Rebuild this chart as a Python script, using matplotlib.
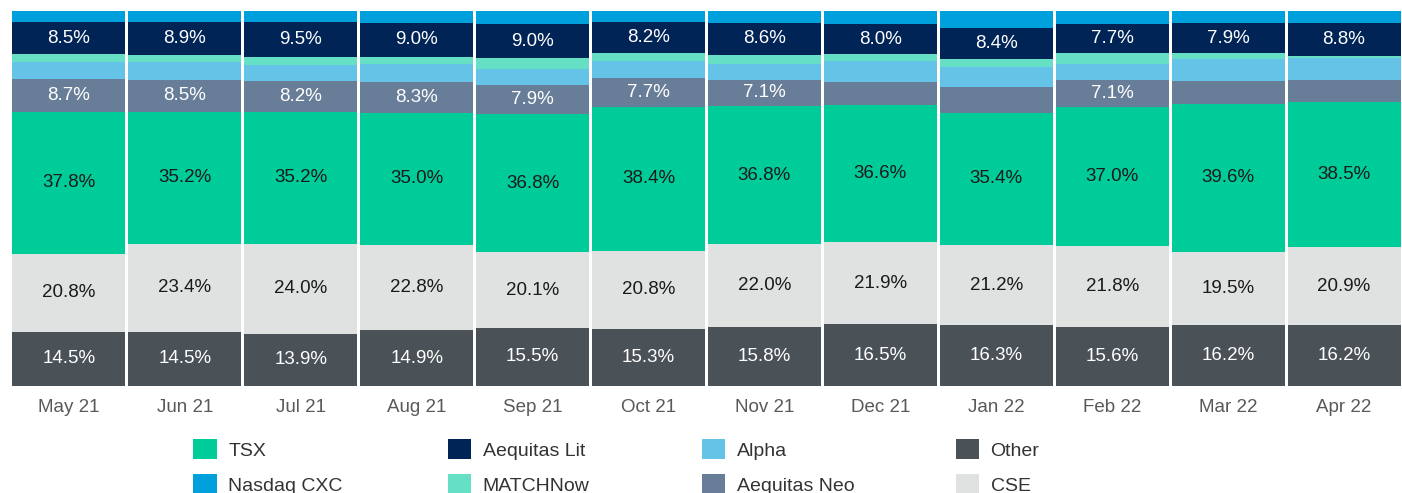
import matplotlib.pyplot as plt
import numpy as np

plt.rcParams['font.family'] = ['Liberation Sans', 'DejaVu Sans']

months = ['May 21', 'Jun 21', 'Jul 21', 'Aug 21', 'Sep 21', 'Oct 21',
          'Nov 21', 'Dec 21', 'Jan 22', 'Feb 22', 'Mar 22', 'Apr 22']

# market share (%) by venue, stacked bottom -> top
other = [14.5, 14.5, 13.9, 14.9, 15.5, 15.3, 15.8, 16.5, 16.3, 15.6, 16.2, 16.2]
cse = [20.8, 23.4, 24.0, 22.8, 20.1, 20.8, 22.0, 21.9, 21.2, 21.8, 19.5, 20.9]
tsx = [37.8, 35.2, 35.2, 35.0, 36.8, 38.4, 36.8, 36.6, 35.4, 37.0, 39.6, 38.5]
aeq_neo = [8.7, 8.5, 8.2, 8.3, 7.9, 7.7, 7.1, 6.1, 6.8, 7.1, 6.1, 5.9]
alpha = [4.5, 4.7, 4.3, 4.7, 4.3, 4.3, 4.1, 5.5, 5.3, 4.3, 5.7, 5.9]
matchnow = [2.1, 1.9, 2.0, 2.1, 2.8, 2.2, 2.4, 1.8, 2.1, 2.9, 1.7, 0.6]
aeq_lit = [8.5, 8.9, 9.5, 9.0, 9.0, 8.2, 8.6, 8.0, 8.4, 7.7, 7.9, 8.8]
nasdaq = [3.1, 2.9, 2.9, 3.2, 3.6, 3.1, 3.2, 3.6, 4.5, 3.6, 3.3, 3.2]

series = [
    ('Other', other, '#4a5157', 'white'),
    ('CSE', cse, '#e0e1e1', '#1a1a1a'),
    ('TSX', tsx, '#00cc99', '#1a1a1a'),
    ('Aequitas Neo', aeq_neo, '#687d98', 'white'),
    ('Alpha', alpha, '#66c3e8', None),
    ('MATCHNow', matchnow, '#66e0c4', None),
    ('Aequitas Lit', aeq_lit, '#002456', 'white'),
    ('Nasdaq CXC', nasdaq, '#00a0dc', None),
]

fig = plt.figure(figsize=(14.02, 4.93), dpi=100)
ax = fig.add_axes([0.0078, 0.217, 0.9922, 0.761])

x = np.arange(len(months))
bottom = np.zeros(len(months))
handles = {}
for name, vals, color, tcol in series:
    vals = np.array(vals)
    bars = ax.bar(x, vals, bottom=bottom, width=0.975, color=color,
                  linewidth=0, label=name)
    handles[name] = bars
    if tcol is not None:
        for xi, b, v in zip(x, bottom, vals):
            if v >= 7:
                ax.text(xi, b + v / 2, '%.1f%%' % v, ha='center', va='center',
                        color=tcol, fontsize=13.5)
    bottom += vals

ax.set_xlim(-0.5, len(months) - 0.5)
ax.set_ylim(0, bottom.max())
ax.set_xticks(x)
ax.set_xticklabels(months, fontsize=13.5, color='#595959')
ax.tick_params(axis='x', length=0, pad=9)
ax.set_yticks([])
for s in ax.spines.values():
    s.set_visible(False)

# legend: 4 columns placed individually
cols = [['TSX', 'Nasdaq CXC'], ['Aequitas Lit', 'MATCHNow'],
        ['Alpha', 'Aequitas Neo'], ['Other', 'CSE']]
for i, names in enumerate(cols):
    leg = fig.legend([handles[n] for n in names], names,
                     loc='upper left', bbox_to_anchor=(0.138 + i * 0.1812, 0.109),
                     frameon=False, fontsize=14, handlelength=1.2,
                     handleheight=1.2, handletextpad=0.6, labelspacing=0.75,
                     borderaxespad=0, borderpad=0)
    for t in leg.get_texts():
        t.set_color('#333333')

fig.savefig('out.png', dpi=100)
